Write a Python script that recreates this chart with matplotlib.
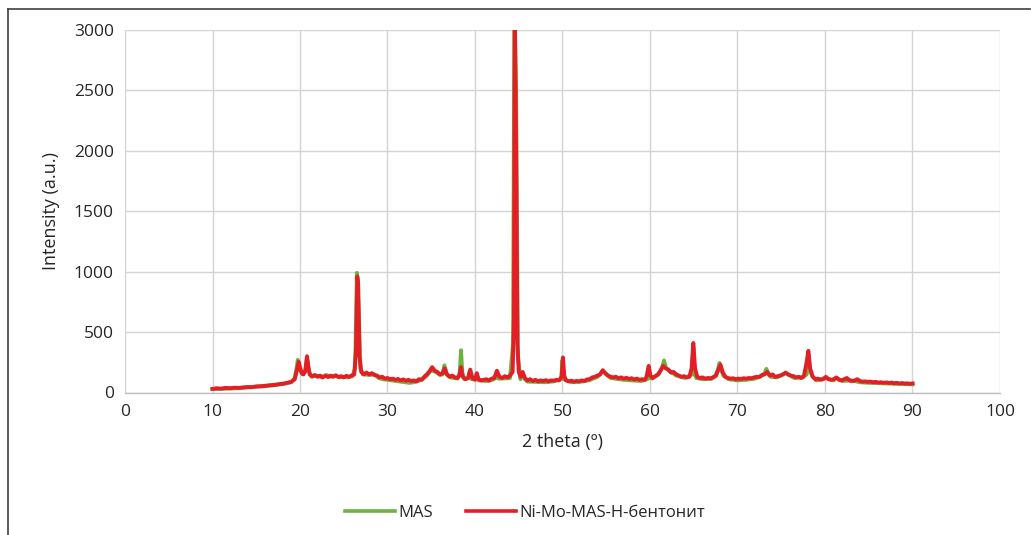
import matplotlib
matplotlib.use("Agg")
import matplotlib.pyplot as plt
from matplotlib.lines import Line2D

plt.rcParams['font.family'] = ['Open Sans', 'DejaVu Sans']

series_names = ["MAS", "Ni-Mo-MAS-H-бентонит"]

red_x = [10.0, 10.5, 11, 11.5, 12, 12.5, 13, 13.5, 14, 14.5, 15, 15.5, 16, 16.5, 17, 17.5, 18, 18.5, 19, 19.4,
         19.7, 19.85, 20.0, 20.2, 20.4, 20.6, 20.8, 20.95, 21.1, 21.4, 21.7, 22, 22.3, 22.6, 22.9, 23.2, 23.5,
         23.8, 24.1, 24.4, 24.7, 25, 25.3, 25.6, 25.9, 26.2, 26.4, 26.55, 26.65, 26.8, 27, 27.3, 27.6, 27.9,
         28.2, 28.5, 28.8, 29.1, 29.4, 29.7, 30, 30.3, 30.6, 30.9, 31.2, 31.5, 31.8, 32.1, 32.4, 32.7, 33,
         33.3, 33.6, 33.9, 34.2, 34.5, 34.8, 35.1, 35.4, 35.7, 36, 36.3, 36.55, 36.8, 37.1, 37.4, 37.7, 38,
         38.2, 38.4, 38.6, 38.9, 39.2, 39.45, 39.7, 40, 40.2, 40.4, 40.7, 41, 41.3, 41.6, 41.9, 42.2, 42.5,
         42.8, 43.1, 43.4, 43.7, 44, 44.3, 44.45, 44.55, 44.7, 44.85, 45, 45.2, 45.45, 45.7, 46, 46.3, 46.6,
         46.9, 47.2, 47.5, 47.8, 48.1, 48.4, 48.7, 49, 49.3, 49.6, 49.9, 50.05, 50.2, 50.4, 50.7, 51, 51.3,
         51.6, 51.9, 52.2, 52.5, 52.8, 53.1, 53.4, 53.7, 54, 54.3, 54.6, 54.9, 55.2, 55.5, 55.8, 56.1, 56.4,
         56.7, 57, 57.3, 57.6, 57.9, 58.2, 58.5, 58.8, 59.1, 59.4, 59.6, 59.85, 60.05, 60.3, 60.6, 60.9, 61.2,
         61.5, 61.8, 62.1, 62.4, 62.7, 63, 63.3, 63.6, 63.9, 64.2, 64.5, 64.75, 64.95, 65.15, 65.4, 65.7, 66,
         66.3, 66.6, 66.9, 67.2, 67.5, 67.8, 68.05, 68.3, 68.6, 68.9, 69.2, 69.5, 69.8, 70.1, 70.4, 70.7, 71,
         71.3, 71.6, 71.9, 72.2, 72.5, 72.8, 73.1, 73.4, 73.7, 74, 74.3, 74.6, 74.9, 75.2, 75.5, 75.8, 76.1,
         76.4, 76.7, 77, 77.3, 77.6, 77.9, 78.1, 78.3, 78.6, 78.9, 79.2, 79.5, 79.8, 80.1, 80.4, 80.7, 81,
         81.3, 81.6, 81.9, 82.2, 82.5, 82.8, 83.1, 83.4, 83.7, 84, 84.3, 84.6, 84.9, 85.2, 85.5, 85.8, 86.1,
         86.4, 86.7, 87, 87.3, 87.6, 87.9, 88.2, 88.5, 88.8, 89.1, 89.4, 89.7, 90]
red_y = [30, 35, 32, 38, 35, 40, 38, 42, 45, 44, 50, 52, 55, 60, 62, 68, 72, 80, 88, 110,
         200, 255, 210, 160, 150, 180, 300, 220, 150, 135, 145, 130, 140, 125, 138, 128, 140,
         130, 142, 128, 135, 125, 138, 130, 140, 150, 350, 960, 900, 300, 170, 150, 165, 150,
         160, 145, 140, 125, 130, 115, 120, 110, 115, 105, 112, 100, 108, 98, 105, 95, 100,
         92, 110, 105, 130, 150, 175, 210, 180, 170, 150, 160, 200, 150, 130, 140, 125, 120,
         140, 210, 130, 110, 120, 190, 120, 105, 160, 110, 100, 105, 110, 100, 115, 120, 180,
         130, 120, 135, 125, 140, 170, 600, 3200, 2000, 400, 170, 130, 170, 120, 100, 110, 95,
         105, 92, 100, 95, 102, 92, 100, 98, 105, 100, 130, 290, 140, 100, 92, 98, 90,
         96, 92, 100, 95, 108, 110, 125, 130, 140, 150, 185, 160, 140, 130, 125, 130, 118,
         125, 115, 122, 112, 118, 108, 115, 105, 110, 105, 130, 220, 140, 120, 135, 150, 180,
         220, 200, 190, 165, 170, 150, 140, 130, 135, 125, 130, 200, 410, 200, 130, 120, 125,
         115, 120, 118, 125, 140, 190, 230, 170, 130, 120, 115, 118, 110, 115, 112, 118, 115,
         120, 118, 125, 130, 128, 145, 150, 170, 140, 150, 130, 135, 140, 150, 165, 150, 140,
         135, 125, 130, 120, 140, 250, 345, 200, 130, 110, 115, 105, 110, 130, 110, 105, 110,
         125, 105, 100, 110, 120, 100, 95, 100, 110, 95, 90, 92, 88, 90, 85, 88, 82,
         85, 80, 84, 78, 82, 76, 80, 75, 78, 74, 76, 72, 75]

green_x = [10, 11, 12, 13, 14, 15, 16, 17, 18, 19, 19.4, 19.6, 19.75, 19.95, 20.3, 20.6, 20.8, 21.0, 21.3, 22,
           22.5, 23, 23.5, 24, 24.5, 25, 25.5, 26, 26.3, 26.5, 26.7, 26.9, 27.2, 28, 28.5, 29, 29.5, 30,
           31, 32, 32.5, 33, 33.5, 34, 34.5, 35, 35.5, 36, 36.3, 36.5, 36.75, 37.2, 38, 38.25, 38.4, 38.55,
           38.8, 39.25, 39.4, 39.6, 40.05, 40.2, 40.4, 41.5, 42, 42.35, 42.5, 42.7, 43, 44, 44.35, 44.5, 44.7,
           44.9, 45.2, 45.35, 45.5, 45.7, 46, 47, 48, 49, 49.85, 50.0, 50.15, 51, 52, 53, 54, 54.6, 55.5,
           57, 58, 59, 59.7, 59.85, 60.0, 60.2, 61, 61.4, 61.6, 61.85, 62, 63, 64, 64.8, 64.95, 65.1, 65.3,
           66, 67, 67.6, 67.8, 67.95, 68.15, 68.4, 69, 70, 71, 72, 72.8, 73.1, 73.3, 73.55, 73.8, 74.5,
           75.5, 76.5, 77.5, 77.9, 78.1, 78.3, 78.5, 79, 80, 81, 81.3, 82, 83, 84, 85, 86, 87, 88, 89, 90]
green_y = [28, 30, 33, 36, 42, 48, 52, 60, 70, 85, 120, 200, 270, 190, 150, 170, 280, 180, 130, 140,
           125, 145, 130, 140, 125, 130, 125, 135, 200, 990, 700, 200, 150, 145, 150, 120, 110, 105,
           95, 85, 80, 85, 95, 110, 140, 185, 170, 145, 150, 225, 150, 125, 115, 160, 350, 160,
           110, 120, 170, 110, 110, 140, 100, 95, 105, 120, 160, 115, 115, 120, 400, 3200, 2500,
           300, 110, 150, 140, 110, 90, 88, 85, 92, 110, 270, 110, 85, 88, 100, 130, 175, 120,
           105, 100, 95, 110, 200, 120, 115, 150, 210, 265, 200, 190, 140, 120, 150, 380, 150, 120,
           110, 112, 140, 200, 245, 180, 140, 110, 100, 105, 115, 140, 160, 195, 150, 130, 125,
           160, 120, 125, 150, 320, 180, 140, 100, 120, 100, 120, 95, 100, 85, 80, 78, 75, 72, 70, 68]

x_ticks = [0, 10, 20, 30, 40, 50, 60, 70, 80, 90, 100]
y_ticks = [0, 500, 1000, 1500, 2000, 2500, 3000]

W, H = 1031, 535
fig = plt.figure(figsize=(W / 100, H / 100), dpi=100)
ax = fig.add_axes([125 / W, 1 - 392.5 / H, 875 / W, 362.5 / H])

green_c = '#6db33f'
red_c = '#e41e26'
ax.plot(green_x, green_y, color=green_c, lw=2.8, solid_joinstyle='round', zorder=3)
ax.plot(red_x, red_y, color=red_c, lw=2.8, solid_joinstyle='round', zorder=4)

ax.set_xlim(0, 100)
ax.set_ylim(0, 3000)
ax.set_xticks(x_ticks)
ax.set_yticks(y_ticks)
ax.grid(True, color='#d4d4d4', lw=1.0, zorder=0)
ax.set_axisbelow(True)
for s in ['top', 'right', 'left']:
    ax.spines[s].set_visible(False)
ax.spines['bottom'].set_color('#bfbfbf')
ax.spines['bottom'].set_linewidth(1.0)
ax.tick_params(length=0, labelsize=12.5, colors='#262626', pad=8)
ax.set_xlabel('2 theta (º)', fontsize=13, color='#262626', labelpad=10)
ax.set_ylabel('Intensity (a.u.)', fontsize=13, color='#262626', labelpad=10)

handles = [Line2D([], [], color=green_c, lw=2.6), Line2D([], [], color=red_c, lw=2.6)]
fig.legend(handles, series_names, loc='center', bbox_to_anchor=(525 / W, 1 - 513 / H), ncol=2,
           frameon=False, fontsize=12, handlelength=3, handletextpad=0.2, columnspacing=2.0,
           labelcolor='#262626')

# outer chart border (top and left visible)
fig.add_artist(Line2D([8 / W, 8 / W], [0, 1 - 9 / H], transform=fig.transFigure, color='#404040', lw=1.2))
fig.add_artist(Line2D([8 / W, 1030 / W], [1 - 9 / H, 1 - 9 / H], transform=fig.transFigure, color='#404040', lw=1.2))

fig.savefig('out.png', dpi=100)
